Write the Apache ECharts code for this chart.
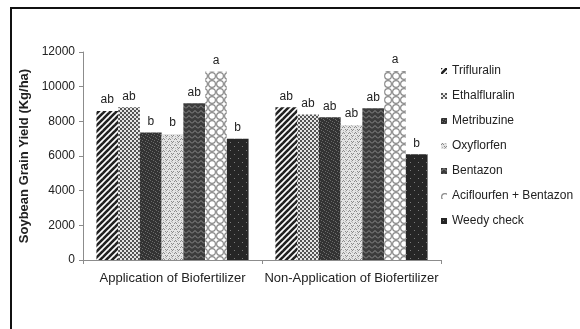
<!DOCTYPE html>
<html>
<head>
<meta charset="utf-8">
<script src="https://cdn.jsdelivr.net/npm/echarts@6/dist/echarts.min.js"></script>
<style>
  html, body { margin: 0; padding: 0; background: #fff; }
  #chart { width: 580px; height: 329px; position: relative; }
  #frame { position: absolute; left: 10px; top: 7px; width: 600px; height: 400px;
           border-left: 2px solid #111; border-top: 2px solid #111; pointer-events: none; }
</style>
</head>
<body>
<div id="chart"></div>
<div id="frame"></div>
<script>
// Soybean grain yield by herbicide treatment, with and without biofertilizer
const groups = ['Application of Biofertilizer', 'Non-Application of Biofertilizer'];
const treatments = ['Trifluralin', 'Ethalfluralin', 'Metribuzine', 'Oxyflorfen', 'Bentazon', 'Aciflourfen + Bentazon', 'Weedy check'];

const trifluralin   = [8600, 8810];
const ethalfluralin = [8810, 8400];
const metribuzine   = [7350, 8230];
const oxyflorfen    = [7270, 7790];
const bentazon      = [9040, 8750];
const aciflourfen   = [10880, 10900];
const weedyCheck    = [7000, 6100];

const trifluralinLetters   = ['ab', 'ab'];
const ethalfluralinLetters = ['ab', 'ab'];
const metribuzineLetters   = ['b', 'ab'];
const oxyflorfenLetters    = ['b', 'ab'];
const bentazonLetters      = ['ab', 'ab'];
const aciflourfenLetters   = ['a', 'a'];
const weedyCheckLetters    = ['b', 'b'];

const yTicks = { min: 0, max: 12000, interval: 2000 };

// --- fill patterns ---
function tile(w, h, draw) {
  const c = document.createElement('canvas');
  c.width = w; c.height = h;
  const ctx = c.getContext('2d');
  draw(ctx, w, h);
  return { image: c, repeat: 'repeat' };
}
const patterns = [
  // diagonal stripes
  tile(6, 6, (ctx, w, h) => {
    ctx.fillStyle = '#fff'; ctx.fillRect(0, 0, w, h);
    ctx.strokeStyle = '#222'; ctx.lineWidth = 2.6;
    for (let k = -1; k <= 1; k++) {
      ctx.beginPath(); ctx.moveTo(k * w - 1, h + 1); ctx.lineTo(k * w + w + 1, -1); ctx.stroke();
    }
  }),
  // fine checker
  tile(4, 4, (ctx) => {
    ctx.fillStyle = '#e6e6e6'; ctx.fillRect(0, 0, 4, 4);
    ctx.fillStyle = '#555'; ctx.fillRect(0, 0, 2, 2); ctx.fillRect(2, 2, 2, 2);
  }),
  // dark speckle
  tile(6, 6, (ctx) => {
    ctx.fillStyle = '#333'; ctx.fillRect(0, 0, 6, 6);
    ctx.fillStyle = '#6a6a6a';
    ctx.fillRect(0, 0, 1, 1); ctx.fillRect(2, 1, 1, 1); ctx.fillRect(4, 2, 1, 1);
    ctx.fillRect(1, 3, 1, 1); ctx.fillRect(3, 4, 1, 1); ctx.fillRect(5, 5, 1, 1);
  }),
  // light wavy speckle
  tile(6, 6, (ctx) => {
    ctx.fillStyle = '#e4e4e4'; ctx.fillRect(0, 0, 6, 6);
    ctx.fillStyle = '#8a8a8a';
    ctx.fillRect(0, 1, 1, 1); ctx.fillRect(1, 0, 1, 1); ctx.fillRect(2, 1, 1, 1);
    ctx.fillRect(3, 3, 1, 1); ctx.fillRect(4, 4, 1, 1); ctx.fillRect(5, 3, 1, 1);
    ctx.fillStyle = '#b5b5b5';
    ctx.fillRect(1, 4, 1, 1); ctx.fillRect(4, 0, 1, 1); ctx.fillRect(3, 5, 1, 1);
  }),
  // zigzag waves
  tile(6, 5, (ctx) => {
    ctx.fillStyle = '#3c3c3c'; ctx.fillRect(0, 0, 6, 5);
    ctx.strokeStyle = '#909090'; ctx.lineWidth = 1;
    ctx.beginPath(); ctx.moveTo(0, 3.5); ctx.lineTo(3, 0.5); ctx.lineTo(6, 3.5); ctx.stroke();
  }),
  // open circle lattice
  tile(8, 8, (ctx) => {
    ctx.fillStyle = '#fff'; ctx.fillRect(0, 0, 8, 8);
    ctx.strokeStyle = '#8c8c8c'; ctx.lineWidth = 1.2;
    ctx.beginPath(); ctx.arc(4, 4, 3.4, 0, Math.PI * 2); ctx.stroke();
  }),
  // dark with sparse dots
  tile(8, 8, (ctx) => {
    ctx.fillStyle = '#262626'; ctx.fillRect(0, 0, 8, 8);
    ctx.fillStyle = '#7a7a7a';
    ctx.fillRect(2, 2, 1, 1); ctx.fillRect(6, 6, 1, 1);
  })
];

const values = [trifluralin, ethalfluralin, metribuzine, oxyflorfen, bentazon, aciflourfen, weedyCheck];
const letters = [trifluralinLetters, ethalfluralinLetters, metribuzineLetters, oxyflorfenLetters,
                 bentazonLetters, aciflourfenLetters, weedyCheckLetters];

const font = '"Liberation Sans", Arial, sans-serif';

const series = treatments.map((name, i) => ({
  name: name,
  type: 'bar',
  barGap: '0%',
  barCategoryGap: '15%',
  data: values[i],
  itemStyle: { color: patterns[i] },
  label: {
    show: true,
    position: 'top',
    distance: 5,
    color: '#222',
    fontSize: 12,
    fontFamily: font,
    formatter: (p) => letters[i][p.dataIndex]
  },
  emphasis: { disabled: true }
}));

const chart = echarts.init(document.getElementById('chart'), null, { renderer: 'canvas' });
chart.setOption({
  animation: false,
  backgroundColor: '#fff',
  textStyle: { fontFamily: font },
  grid: { left: 83, right: 139, top: 52, bottom: 69 },
  legend: {
    orient: 'vertical',
    left: 436,
    top: 60,
    itemWidth: 6,
    itemHeight: 6,
    itemGap: 13,
    icon: 'rect',
    textStyle: { fontSize: 12, color: '#222', fontFamily: font },
    data: treatments
  },
  xAxis: {
    type: 'category',
    data: groups,
    axisLine: { lineStyle: { color: '#8c8c8c', width: 1 } },
    axisTick: { show: true, length: 4, lineStyle: { color: '#8c8c8c' } },
    axisLabel: { color: '#222', fontSize: 13, margin: 12, interval: 0, fontFamily: font }
  },
  yAxis: {
    type: 'value',
    min: yTicks.min,
    max: yTicks.max,
    interval: yTicks.interval,
    name: 'Soybean Grain Yield (Kg/ha)',
    nameLocation: 'middle',
    nameGap: 47,
    nameTextStyle: { fontSize: 13, fontWeight: 'bold', color: '#222', fontFamily: font },
    axisLine: { show: true, lineStyle: { color: '#8c8c8c', width: 1 } },
    axisTick: { show: true, length: 4, lineStyle: { color: '#8c8c8c' } },
    axisLabel: { color: '#222', fontSize: 12, margin: 8, fontFamily: font, formatter: (v) => String(v) },
    splitLine: { show: false }
  },
  series: series
});
</script>
</body>
</html>
